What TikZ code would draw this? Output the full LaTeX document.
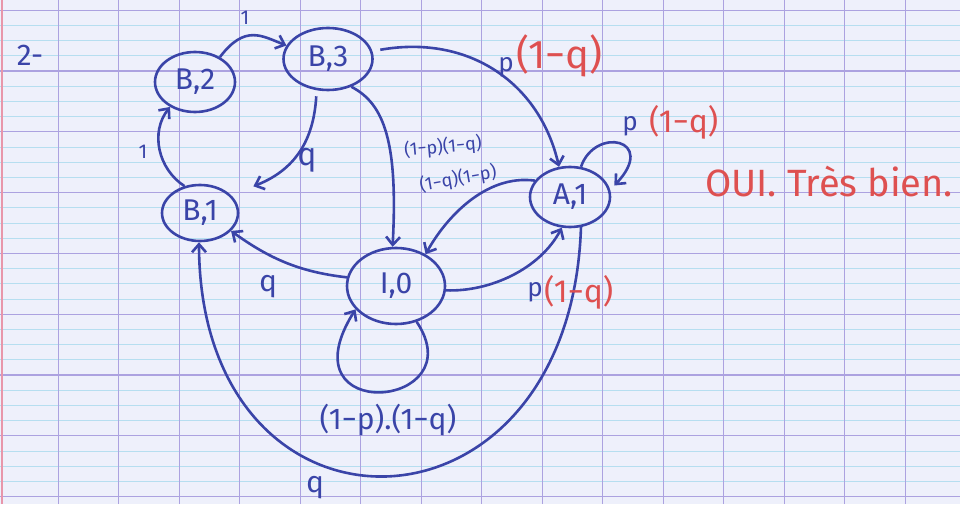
\documentclass[tikz,border=0pt]{standalone}
\usepackage{fontspec}
\setmainfont{Fira Sans}
\usetikzlibrary{shapes.geometric,arrows.meta}
\definecolor{ink}{RGB}{58,68,168}
\definecolor{redink}{RGB}{222,80,80}
\definecolor{paper}{RGB}{238,240,251}
\definecolor{majorline}{RGB}{172,162,224}
\definecolor{minorline}{RGB}{182,222,240}
\definecolor{marginline}{RGB}{232,150,170}
\begin{document}
\begin{tikzpicture}[x=1pt,y=1pt,
  state/.style={ellipse, draw=ink, line width=2.6pt, text=ink, inner sep=0pt,
    font=\fontsize{30}{32}\selectfont},
  ed/.style={draw=ink, line width=2.6pt, -{Straight Barb[length=8pt,width=14pt]}},
  lbl/.style={text=ink, font=\fontsize{26}{28}\selectfont, inner sep=1pt},
  smalllbl/.style={text=ink, font=\fontsize{18}{20}\selectfont, inner sep=1pt},
  rlbl/.style={text=redink, font=\fontsize{40}{42}\selectfont, inner sep=1pt}]
\useasboundingbox (0,0) rectangle (960,504);
\fill[paper] (0,0) rectangle (960,504);
% Seyes ruling
\foreach \k in {-1,...,33} {
  \draw[minorline, line width=0.8pt] (0,{504-(10.2+15.2*\k)}) -- (960,{504-(10.2+15.2*\k)});
}
\foreach \k in {0,...,8} {
  \draw[majorline, line width=1.1pt] (0,{504-(10.2+60.8*\k)}) -- (960,{504-(10.2+60.8*\k)});
}
\foreach \k in {0,...,16} {
  \draw[majorline, line width=1pt] ({-2.5+60.5*\k},0) -- ({-2.5+60.5*\k},504);
}
\draw[marginline, line width=2pt] (2,0) -- (2,504);

% states
\node[state, minimum width=80pt, minimum height=60pt] (B2) at (195,422) {B,2};
\node[state, minimum width=89pt, minimum height=62pt] (B3) at (328,445) {B,3};
\node[state, minimum width=76pt, minimum height=56pt] (B1) at (200,291) {B,1};
\node[state, minimum width=98pt, minimum height=76pt] (I0) at (396,218) {I,0};
\node[state, minimum width=80pt, minimum height=60pt] (A1) at (570,307) {A,1};

% edges
\draw[ed] (B2.45) .. controls (245,480) and (262,468) .. (B3.162);
\draw[ed] (B1.120) .. controls (158,335) and (150,372) .. (B2.225);
\draw[ed, shorten <=6pt, shorten >=24pt] (B3.250) .. controls (314,370) and (300,336) .. (B1.30);
\draw[ed, shorten <=8pt] (B3.10) .. controls (470,470) and (540,420) .. (A1.110);
\draw[ed] (B3.-50) .. controls (385,400) and (398,360) .. (I0.95);
\draw[ed] (A1.155) .. controls (485,330) and (445,285) .. (I0.47);
\draw[ed] (I0.-5) .. controls (490,212) and (540,235) .. (A1.255);
\draw[ed, shorten >=6pt] (A1.70) .. controls (595,378) and (658,365) .. (A1.10);
\draw[ed] (I0.170) .. controls (300,232) and (270,245) .. (B1.-30);
\draw[ed] (I0.-60) .. controls (475,95) and (282,78) .. (I0.210);
\draw[ed] (A1.-70) .. controls (570,-50) and (200,-55) .. (B1.268);

% labels
\node[text=ink, font=\fontsize{30}{32}\selectfont] (num) at (30,449) {2-};
\node[lbl, font=\fontsize{20}{22}\selectfont] (l1) at (245,486) {1};
\node[lbl, font=\fontsize{20}{22}\selectfont] (l2) at (143,352) {1};
\node[lbl, font=\fontsize{32}{34}\selectfont] (l3) at (307,344) {q};
\node[lbl] (l4p) at (506,437) {p};
\node[rlbl, anchor=west] (l4q) at (515,448) {(1−q)};
\node[smalllbl, rotate=5] (l5) at (443,357) {(1−p)(1−q)};
\node[smalllbl, rotate=10] (l6) at (458,325) {(1−q)(1−p)};
\node[lbl] (l7p) at (535,212) {p};
\node[rlbl, anchor=west, font=\fontsize{32}{34}\selectfont] (l7q) at (543,212) {(1−q)};
\node[lbl] (l8p) at (630,378) {p};
\node[rlbl, anchor=west, font=\fontsize{32}{34}\selectfont] (l8q) at (648,382) {(1−q)};
\node[lbl, font=\fontsize{30}{32}\selectfont] (l9) at (268,217) {q};
\node[lbl, font=\fontsize{30}{32}\selectfont] (l10) at (388,84) {(1−p).(1−q)};
\node[lbl, font=\fontsize{30}{32}\selectfont] (l11) at (315,16) {q};
\node[rlbl, anchor=west, font=\fontsize{38}{40}\selectfont] (ok) at (704,322) {OUI. Très bien.};
\end{tikzpicture}
\end{document}
